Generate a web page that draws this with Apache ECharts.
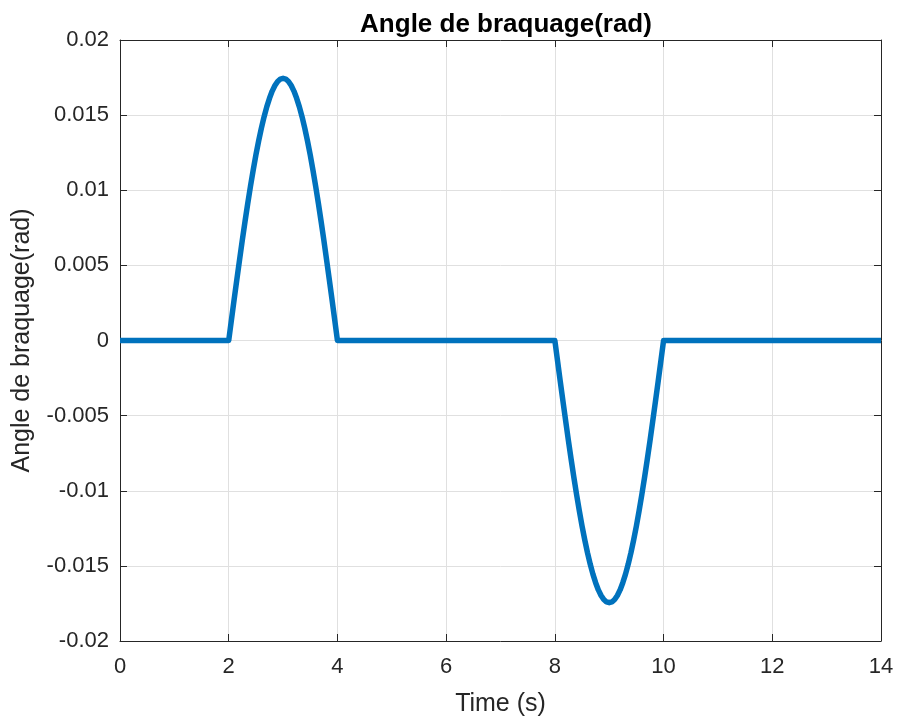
<!DOCTYPE html>
<html>
<head>
<meta charset="utf-8">
<script src="https://cdn.jsdelivr.net/npm/echarts@6/dist/echarts.min.js"></script>
<style>
html,body{margin:0;padding:0;background:#fff;}
#c{width:898px;height:718px;}
</style>
</head>
<body>
<div id="c"></div>
<script>
var titleText = 'Angle de braquage(rad)';
var xName = 'Time (s)';
var yName = 'Angle de braquage(rad)';
var times = [0,
  2.00, 2.05, 2.10, 2.15, 2.20, 2.25, 2.30, 2.35, 2.40, 2.45, 2.50, 2.55, 2.60, 2.65, 2.70, 2.75, 2.80, 2.85, 2.90, 2.95,
  3.00, 3.05, 3.10, 3.15, 3.20, 3.25, 3.30, 3.35, 3.40, 3.45, 3.50, 3.55, 3.60, 3.65, 3.70, 3.75, 3.80, 3.85, 3.90, 3.95, 4.00,
  8.00, 8.05, 8.10, 8.15, 8.20, 8.25, 8.30, 8.35, 8.40, 8.45, 8.50, 8.55, 8.60, 8.65, 8.70, 8.75, 8.80, 8.85, 8.90, 8.95,
  9.00, 9.05, 9.10, 9.15, 9.20, 9.25, 9.30, 9.35, 9.40, 9.45, 9.50, 9.55, 9.60, 9.65, 9.70, 9.75, 9.80, 9.85, 9.90, 9.95, 10.00,
  14];
var angles = [0,
  0, 0.00137, 0.00273, 0.00407, 0.00539, 0.00668, 0.00792, 0.00912, 0.01026, 0.01133, 0.01234, 0.01327, 0.01412, 0.01488, 0.01555, 0.01612, 0.01660, 0.01697, 0.01724, 0.01740,
  0.01745, 0.01740, 0.01724, 0.01697, 0.01660, 0.01612, 0.01555, 0.01488, 0.01412, 0.01327, 0.01234, 0.01133, 0.01026, 0.00912, 0.00792, 0.00668, 0.00539, 0.00407, 0.00273, 0.00137, 0,
  0, -0.00137, -0.00273, -0.00407, -0.00539, -0.00668, -0.00792, -0.00912, -0.01026, -0.01133, -0.01234, -0.01327, -0.01412, -0.01488, -0.01555, -0.01612, -0.01660, -0.01697, -0.01724, -0.01740,
  -0.01745, -0.01740, -0.01724, -0.01697, -0.01660, -0.01612, -0.01555, -0.01488, -0.01412, -0.01327, -0.01234, -0.01133, -0.01026, -0.00912, -0.00792, -0.00668, -0.00539, -0.00407, -0.00273, -0.00137, 0,
  0];
var xTicks = [0, 2, 4, 6, 8, 10, 12, 14];
var yTicks = [-0.02, -0.015, -0.01, -0.005, 0, 0.005, 0.01, 0.015, 0.02];

var data = times.map(function(t, i){ return [t, angles[i]]; });
var font = 'Liberation Sans, Arial, Helvetica, sans-serif';
var axisLine = {show: true, onZero: false, lineStyle: {color: '#262626', width: 1}};
var tick = {show: true, inside: true, length: 7, lineStyle: {color: '#262626'}};
var chart = echarts.init(document.getElementById('c'), null, {renderer: 'canvas'});
chart.setOption({
  animation: false,
  backgroundColor: '#ffffff',
  title: {
    text: titleText, left: 501, top: 7, textAlign: 'center',
    textStyle: {fontFamily: font, fontSize: 26, fontWeight: 'bold', color: '#000'}
  },
  grid: {left: 120, right: 17, top: 40, bottom: 77, containLabel: false, outerBoundsMode: 'none'},
  xAxis: [{
    type: 'value', min: 0, max: 14, interval: 2,
    name: xName, nameLocation: 'middle', nameGap: 51,
    nameTextStyle: {fontFamily: font, fontSize: 25, color: '#262626'},
    axisLine: axisLine, axisTick: tick,
    axisLabel: {fontFamily: font, fontSize: 22, color: '#262626', margin: 15,
      formatter: function(v){ return xTicks.indexOf(v) >= 0 ? String(v) : ''; }},
    splitLine: {show: true, lineStyle: {color: '#e0e0e0', width: 1}}
  }, {
    type: 'value', min: 0, max: 14, interval: 2, position: 'top',
    axisLine: axisLine, axisTick: tick,
    axisLabel: {show: false}, splitLine: {show: false}
  }],
  yAxis: [{
    type: 'value', min: -0.02, max: 0.02, interval: 0.005,
    name: yName, nameLocation: 'middle', nameGap: 85, nameRotate: 90,
    nameTextStyle: {fontFamily: font, fontSize: 25, color: '#262626'},
    axisLine: axisLine, axisTick: tick,
    axisLabel: {fontFamily: font, fontSize: 22, color: '#262626', margin: 11,
      formatter: function(v){
        var r = Math.round(v * 1000) / 1000;
        return String(r);
      }},
    splitLine: {show: true, lineStyle: {color: '#e0e0e0', width: 1}}
  }, {
    type: 'value', min: -0.02, max: 0.02, interval: 0.005, position: 'right',
    axisLine: axisLine, axisTick: tick,
    axisLabel: {show: false}, splitLine: {show: false}
  }],
  series: [{
    type: 'line', data: data, xAxisIndex: 0, yAxisIndex: 0,
    showSymbol: false, smooth: false, clip: false,
    lineStyle: {color: '#0072BD', width: 5.5, join: 'round', cap: 'butt'},
    itemStyle: {color: '#0072BD'},
    z: 5
  }]
});
</script>
</body>
</html>
